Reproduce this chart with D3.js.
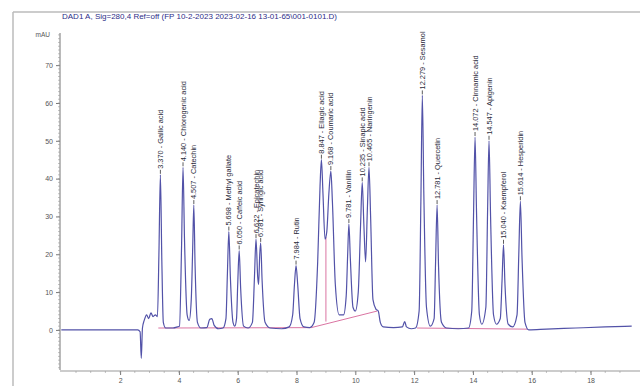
<!DOCTYPE html>
<html>
<head>
<meta charset="utf-8">
<script src="https://cdn.jsdelivr.net/npm/d3@7"></script>
<style>
  body { margin: 0; background: #fff; }
  svg { display: block; font-family: "Liberation Sans", Arial, sans-serif; }
</style>
</head>
<body>
<svg id="chart" width="640" height="386"></svg>
<script>
// peak table: retention time (min), apex height (mAU), name
let peakTimes   = [3.370, 4.140, 4.507, 5.698, 6.050, 6.622, 6.781, 7.984, 8.847, 9.168, 9.781, 10.235, 10.465, 12.279, 12.781, 14.072, 14.547, 15.040, 15.614];
let peakHeights = [41, 43, 33, 26, 21, 24, 23, 17, 45, 42, 28, 39, 43, 62, 33, 51, 50, 22.5, 34];
let peakNames   = ["Gallic acid", "Chlorogenic acid", "Catechin", "Methyl gallate", "Caffeic acid",
                   "Epicatechin", "Syringic acid", "Rutin", "Ellagic acid", "Coumaric acid", "Vanillin",
                   "Sinapic acid", "Naringenin", "Sesamol", "Quercetin", "Cinnamic acid", "Apigenin",
                   "Kaempferol", "Hesperidin"];

// detector trace, [time min, mAU]
let trace = [
  [0, 0], [2.6, 0], [2.68, -0.5], [2.72, -7.5], [2.76, 0.5], [2.82, 2.5], [2.9, 4], [2.97, 3],
  [3.05, 4.5], [3.12, 3.5], [3.2, 4], [3.27, 3.5], [3.32, 20], [3.37, 41], [3.42, 18], [3.47, 2],
  [3.55, 0.5], [3.8, 0.5], [3.95, 0.8], [4.02, 1], [4.09, 22], [4.14, 43], [4.19, 24], [4.28, 4],
  [4.35, 2.5], [4.42, 8], [4.47, 22], [4.507, 33], [4.55, 17], [4.63, 2], [4.75, 0.5], [4.95, 0.6],
  [5.05, 2.8], [5.12, 3], [5.2, 1.2], [5.35, 0.3], [5.5, 0.5], [5.6, 3], [5.65, 15], [5.698, 26],
  [5.75, 14], [5.84, 2], [5.9, 1], [5.96, 3], [6.0, 12], [6.05, 21], [6.1, 11], [6.2, 1],
  [6.35, 0.5], [6.5, 2], [6.57, 14], [6.622, 24], [6.68, 14], [6.71, 12], [6.75, 20], [6.781, 23],
  [6.83, 13], [6.93, 2], [7.1, 0.5], [7.5, 0.3], [7.75, 0.8], [7.87, 4], [7.93, 12], [7.984, 17],
  [8.04, 12], [8.12, 3], [8.25, 0.8], [8.45, 0.6], [8.6, 2], [8.72, 18], [8.8, 38], [8.847, 45],
  [8.9, 36], [8.97, 24], [9.03, 26], [9.1, 36], [9.168, 42], [9.22, 34], [9.32, 12], [9.45, 4],
  [9.6, 4], [9.69, 9], [9.74, 20], [9.781, 28], [9.83, 19], [9.92, 6], [10.0, 5], [10.1, 10],
  [10.18, 28], [10.235, 39], [10.29, 28], [10.35, 18], [10.41, 32], [10.465, 43], [10.52, 30],
  [10.6, 8], [10.7, 5.5], [10.78, 5], [10.85, 2], [10.95, 0.8], [11.3, 0.6], [11.6, 0.8],
  [11.68, 2.2], [11.74, 0.8], [11.9, 0.3], [12.05, 0.5], [12.17, 5], [12.23, 34], [12.279, 62],
  [12.33, 36], [12.42, 6], [12.55, 1], [12.68, 3], [12.73, 18], [12.781, 33], [12.83, 17],
  [12.93, 2], [13.1, 0.5], [13.5, 0.3], [13.85, 0.5], [13.96, 5], [14.02, 30], [14.072, 51],
  [14.12, 32], [14.22, 4], [14.3, 1.5], [14.44, 6], [14.5, 32], [14.547, 50], [14.6, 30],
  [14.7, 4], [14.8, 1.5], [14.93, 3], [14.99, 13], [15.04, 22.5], [15.09, 12], [15.2, 1.5],
  [15.35, 0.8], [15.5, 4], [15.56, 20], [15.614, 34], [15.67, 19], [15.77, 2], [15.9, 0],
  [16.5, 0.2], [17.5, 0.5], [18.5, 0.8], [19.4, 1.0]
];

// integration baselines [t1, y1, t2, y2]
let baselines = [
  [3.3, 0.5, 8.5, 0.6], [8.5, 0.6, 10.75, 5], [9.0, 2.2, 9.0, 24.5], [12.1, 0.5, 15.85, 0.2]
];

let yTicks = [0, 10, 20, 30, 40, 50, 60, 70];
let xTicks = [2, 4, 6, 8, 10, 12, 14, 16, 18];
let title = "DAD1 A, Sig=280,4 Ref=off (FP 10-2-2023 2023-02-16 13-01-65\\001-0101.D)";

let svg = d3.select("#chart");

let x = d3.scaleLinear().domain([0, 19.4]).range([61.3, 631.7]);
let y = d3.scaleLinear().domain([-10.6, 78.5]).range([370, 33]);

// outer frame
svg.append("line").attr("x1", 13).attr("x2", 640).attr("y1", 12).attr("y2", 12)
    .attr("stroke", "#bbb").attr("stroke-width", 1.5);
svg.append("line").attr("x1", 13).attr("x2", 13).attr("y1", 12).attr("y2", 386)
    .attr("stroke", "#bbb").attr("stroke-width", 1.5);

svg.append("text").attr("x", 62).attr("y", 19)
    .attr("font-size", 8).attr("fill", "#2e2e88")
    .text(title);

//y axis
let yAxis = d3.axisLeft(y).tickValues(yTicks).tickSize(4).tickPadding(3);
let gy = svg.append("g").attr("transform", "translate(60,0)").call(yAxis);
gy.selectAll("text").attr("font-size", 7).attr("fill", "#555");
gy.selectAll("line, path").attr("stroke", "#777");
gy.select(".domain").attr("d", "M0," + y.range()[1] + "V" + y.range()[0]);
let yMinor = d3.range(-10, 79, 1);
svg.append("g").selectAll("line").data(yMinor).enter().append("line")
    .attr("x1", 58).attr("x2", 60)
    .attr("y1", d => y(d)).attr("y2", d => y(d))
    .attr("stroke", "#999").attr("stroke-width", 0.6);
svg.append("text").attr("x", 50).attr("y", 37).attr("text-anchor", "end")
    .attr("font-size", 6.5).attr("fill", "#555").text("mAU");

//x axis
let xAxis = d3.axisBottom(x).tickValues(xTicks).tickSize(4).tickPadding(3);
let gx = svg.append("g").attr("transform", "translate(0,371)").call(xAxis);
gx.selectAll("text").attr("font-size", 7).attr("fill", "#555");
gx.selectAll("line").attr("stroke", "#777");
gx.select(".domain").attr("stroke", "#999").attr("d", "M60,0H640");
let xMinor = d3.range(0.5, 19.5, 0.5);
svg.append("g").selectAll("line").data(xMinor).enter().append("line")
    .attr("x1", d => x(d)).attr("x2", d => x(d))
    .attr("y1", 371).attr("y2", 373)
    .attr("stroke", "#999").attr("stroke-width", 0.6);

//baselines
svg.append("g").selectAll("line").data(baselines).enter().append("line")
    .attr("x1", d => x(d[0])).attr("y1", d => y(d[1]))
    .attr("x2", d => x(d[2])).attr("y2", d => y(d[3]))
    .attr("stroke", "#d0508a").attr("stroke-width", 0.8);

//trace
let line = d3.line()
    .x(d => x(d[0]))
    .y(d => y(d[1]))
    .curve(d3.curveMonotoneX);
svg.append("path").datum(trace)
    .attr("d", line)
    .attr("fill", "none")
    .attr("stroke", "#5252a8")
    .attr("stroke-width", 1.2);

//peak labels
let peaks = peakTimes.map((t, i) => ({t: t, h: peakHeights[i], name: peakNames[i]}));
let lab = svg.append("g").selectAll("g").data(peaks).enter().append("g")
    .attr("transform", d => "translate(" + x(d.t) + "," + (y(d.h) - 1) + ")");
lab.append("line").attr("x1", 0).attr("x2", 0).attr("y1", 0).attr("y2", -4)
    .attr("stroke", "#333").attr("stroke-width", 0.8);
lab.append("text")
    .attr("transform", "translate(0,-5) rotate(-90)")
    .attr("dy", "0.35em")
    .attr("font-size", 7.4)
    .attr("fill", "#2a2a3a")
    .text(d => d3.format(".3f")(d.t) + " - " + d.name);
</script>
</body>
</html>
